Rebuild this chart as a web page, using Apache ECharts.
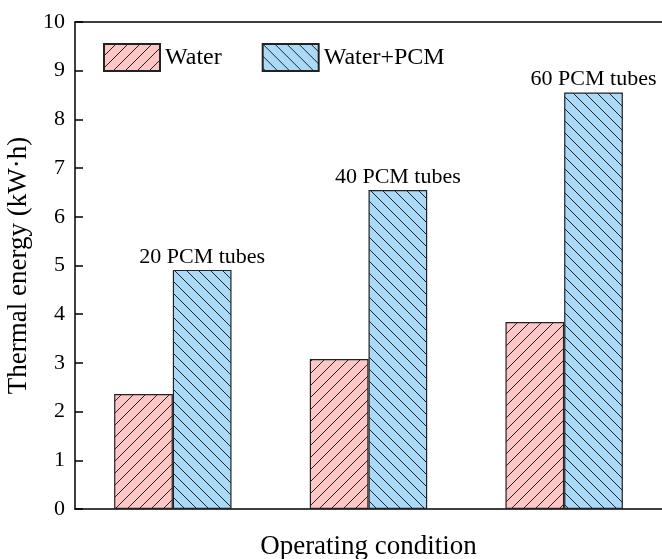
<!DOCTYPE html>
<html>
<head>
<meta charset="utf-8">
<script src="https://cdn.jsdelivr.net/npm/echarts@6/dist/echarts.min.js"></script>
<style>
html, body { margin: 0; padding: 0; background: #fff; }
#main { width: 662px; height: 559px; }
</style>
</head>
<body>
<div id="main"></div>
<script>
var categories = ['20 tubes', '40 tubes', '60 tubes'];
var waterValues = [2.36, 3.08, 3.84];
var pcmValues = [4.91, 6.55, 8.55];
var tubeLabels = ['20 PCM tubes', '40 PCM tubes', '60 PCM tubes'];

// hatch fill: background colour + thin diagonal lines
function hatch(bg, dir) {
    var s = 12;
    var c = document.createElement('canvas');
    c.width = s; c.height = s;
    var ctx = c.getContext('2d');
    ctx.fillStyle = bg;
    ctx.fillRect(0, 0, s, s);
    ctx.strokeStyle = '#222';
    ctx.lineWidth = 1;
    ctx.beginPath();
    if (dir > 0) {
        ctx.moveTo(-1, s + 1); ctx.lineTo(s + 1, -1);
        ctx.moveTo(-1, 1); ctx.lineTo(1, -1);
        ctx.moveTo(s - 1, s + 1); ctx.lineTo(s + 1, s - 1);
    } else {
        ctx.moveTo(-1, -1); ctx.lineTo(s + 1, s + 1);
        ctx.moveTo(s - 1, -1); ctx.lineTo(s + 1, 1);
        ctx.moveTo(-1, s - 1); ctx.lineTo(1, s + 1);
    }
    ctx.stroke();
    return { image: c, repeat: 'repeat' };
}

var font = 'Liberation Serif';
var myChart = echarts.init(document.getElementById('main'));

option = {
    animation: false,
    textStyle: { fontFamily: font, color: '#000' },
    legend: {
        left: 98,
        top: 38,
        itemWidth: 56,
        itemHeight: 27,
        itemGap: 40,
        icon: 'rect',
        textStyle: { fontFamily: font, fontSize: 24, color: '#000' },
        data: ['Water', 'Water+PCM']
    },
    grid: { left: 75, right: 0, top: 22, bottom: 50, outerBoundsMode: 'none', containLabel: false },
    xAxis: [{
        type: 'category',
        data: categories,
        name: 'Operating condition',
        nameLocation: 'middle',
        nameGap: 24,
        nameTextStyle: { fontFamily: font, fontSize: 27, color: '#000' },
        axisLine: { lineStyle: { color: '#000', width: 1.5 } },
        axisTick: { show: false },
        axisLabel: { show: false }
    }, {
        type: 'category',
        position: 'top',
        data: categories,
        axisLine: { lineStyle: { color: '#000', width: 1.5 } },
        axisTick: { show: false },
        axisLabel: { show: false }
    }],
    yAxis: {
        type: 'value',
        min: 0,
        max: 10,
        interval: 1,
        name: 'Thermal energy (kW\u00b7h)',
        nameLocation: 'middle',
        nameGap: 37,
        nameTextStyle: { fontFamily: font, fontSize: 27, color: '#000' },
        axisLine: { show: true, lineStyle: { color: '#000', width: 1.5 } },
        axisTick: { show: true, inside: true, length: 8, lineStyle: { color: '#000', width: 1.5 } },
        axisLabel: { fontFamily: font, fontSize: 22, color: '#000', margin: 10 },
        splitLine: { show: false }
    },
    series: [{
        name: 'Water',
        type: 'bar',
        data: waterValues,
        barGap: '0%',
        barCategoryGap: '40%',
        itemStyle: { color: hatch('#ffc6c6', 1), borderColor: '#222', borderWidth: 1.2 }
    }, {
        name: 'Water+PCM',
        type: 'bar',
        data: pcmValues,
        itemStyle: { color: hatch('#abdaf8', -1), borderColor: '#222', borderWidth: 1.2 },
        label: {
            show: true,
            position: 'top',
            distance: 2,
            fontFamily: font,
            fontSize: 22,
            color: '#000',
            formatter: function (p) { return tubeLabels[p.dataIndex]; }
        }
    }]
};

myChart.setOption(option);
</script>
</body>
</html>
